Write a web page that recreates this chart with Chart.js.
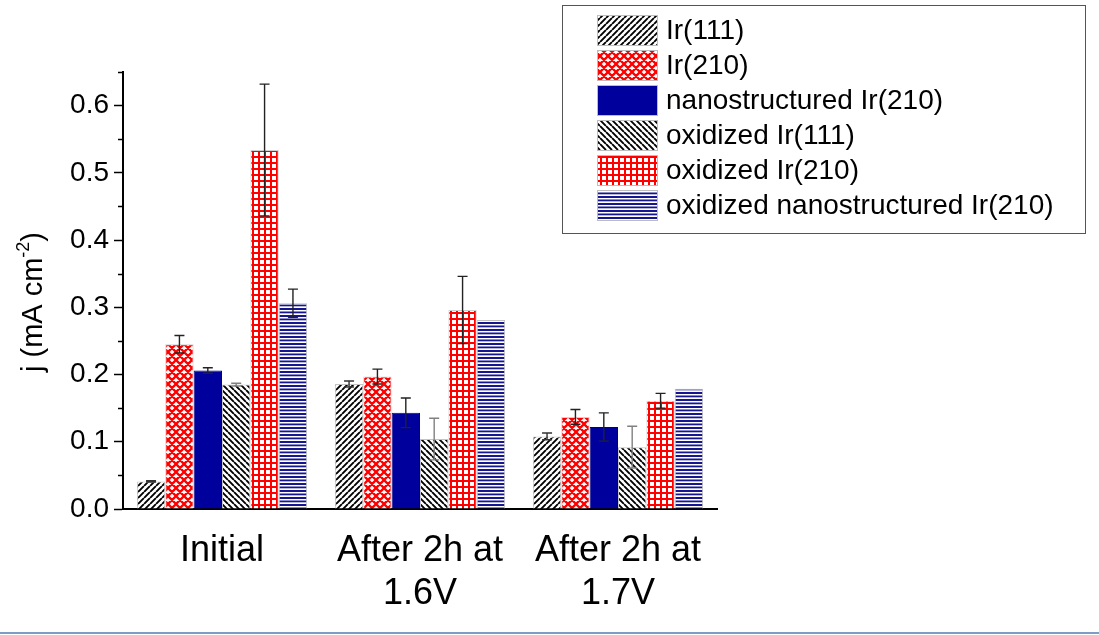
<!DOCTYPE html>
<html>
<head>
  <title>Current density bars</title>
  <style>
    body { margin: 0; background: #fff; }
    canvas { display: block; }
  </style>
</head>
<body>
  <canvas id="chart" width="1099" height="635"></canvas>

  <script src="https://cdn.jsdelivr.net/npm/chart.js"></script>
  <script>
    // data
    const categories = ['Initial', ['After 2h at', '1.6V'], ['After 2h at', '1.7V']];
    const seriesNames = ['Ir(111)', 'Ir(210)', 'nanostructured Ir(210)', 'oxidized Ir(111)', 'oxidized Ir(210)', 'oxidized nanostructured Ir(210)'];
    const ir111 = [0.041, 0.186, 0.108];
    const ir210 = [0.245, 0.197, 0.137];
    const nano210 = [0.206, 0.143, 0.122];
    const oxIr111 = [0.185, 0.104, 0.092];
    const oxIr210 = [0.534, 0.296, 0.161];
    const oxNano210 = [0.306, 0.281, 0.179];
    // half-length of the error bars (0 = none drawn)
    const ir111Err = [0.001, 0.0045, 0.005];
    const ir210Err = [0.013, 0.011, 0.011];
    const nano210Err = [0.004, 0.022, 0.021];
    const oxIr111Err = [0.002, 0.031, 0.031];
    const oxIr210Err = [0.098, 0.05, 0.011];
    const oxNano210Err = [0.021, 0, 0];
    const yTicks = [0, 0.1, 0.2, 0.3, 0.4, 0.5, 0.6];
    const yMinorTicks = [0.05, 0.15, 0.25, 0.35, 0.45, 0.55, 0.65];

    const FONT = '"Liberation Sans", Arial, sans-serif';
    Chart.defaults.color = '#000';
    Chart.defaults.font.family = FONT;

    // hatch patterns
    function makePattern(w, h, draw) {
      const c = document.createElement('canvas');
      c.width = w; c.height = h;
      const g = c.getContext('2d');
      g.fillStyle = '#fff';
      g.fillRect(0, 0, w, h);
      draw(g, w, h);
      return g.createPattern(c, 'repeat');
    }
    const ctx = document.getElementById('chart').getContext('2d');

    const slashFwd = makePattern(6, 6, (g, p) => {
      g.strokeStyle = '#000'; g.lineWidth = 1.9;
      g.beginPath();
      for (const k of [-p, 0, p]) { g.moveTo(k, p); g.lineTo(k + p, 0); }
      g.stroke();
    });
    const slashBack = makePattern(6, 6, (g, p) => {
      g.strokeStyle = '#000'; g.lineWidth = 1.9;
      g.beginPath();
      for (const k of [-p, 0, p]) { g.moveTo(k, 0); g.lineTo(k + p, p); }
      g.stroke();
    });
    const redCross = makePattern(8, 8, (g, p) => {
      g.strokeStyle = '#ff0000'; g.lineWidth = 2.3;
      g.beginPath();
      for (const k of [-p, 0, p]) {
        g.moveTo(k, p); g.lineTo(k + p, 0);
        g.moveTo(k, 0); g.lineTo(k + p, p);
      }
      g.stroke();
    });
    const redGrid = makePattern(6, 6, (g, p) => {
      g.fillStyle = '#ff0000';
      g.fillRect(0, 0, p, 2);
      g.fillRect(0, 0, 2, p);
    });
    const blueLines = makePattern(6, 7, (g, w) => {
      g.fillStyle = '#16168e';
      g.fillRect(0, 0, w, 2);
      g.fillRect(0, 3.5, w, 1.8);
    });

    const fills = [slashFwd, redCross, '#00009c', slashBack, redGrid, blueLines];
    const borders = ['#c4c4c4', '#d0d0d0', '#00007e', '#c4c4c4', '#d0d0d0', '#c0c0c0'];
    const values = [ir111, ir210, nano210, oxIr111, oxIr210, oxNano210];
    const errors = [ir111Err, ir210Err, nano210Err, oxIr111Err, oxIr210Err, oxNano210Err];
    const errColors = ['#333', '#222', '#222', '#808080', '#222', '#222'];

    const errorBars = {
      id: 'errorBars',
      afterDatasetsDraw(chart) {
        const c = chart.ctx, y = chart.scales.y;
        chart.data.datasets.forEach((ds, i) => {
          const meta = chart.getDatasetMeta(i);
          meta.data.forEach((bar, j) => {
            const e = errors[i][j];
            if (!e) return;
            const v = values[i][j];
            const top = y.getPixelForValue(v + e), bot = y.getPixelForValue(v - e);
            c.save();
            c.strokeStyle = errColors[i];
            c.lineWidth = 1.4;
            c.beginPath();
            c.moveTo(bar.x, top); c.lineTo(bar.x, bot);
            c.moveTo(bar.x - 5, top); c.lineTo(bar.x + 5, top);
            c.moveTo(bar.x - 5, bot); c.lineTo(bar.x + 5, bot);
            c.stroke();
            c.restore();
          });
        });
      }
    };

    const decorations = {
      id: 'decorations',
      afterDraw(chart) {
        const c = chart.ctx, y = chart.scales.y, area = chart.chartArea;
        c.save();
        // minor ticks
        c.strokeStyle = '#000'; c.lineWidth = 1.5;
        c.beginPath();
        yMinorTicks.forEach(v => {
          const py = Math.round(y.getPixelForValue(v)) + 0.5;
          c.moveTo(area.left - 5, py); c.lineTo(area.left, py);
        });
        c.stroke();

        // y axis title with superscript
        c.translate(34, 302);
        c.rotate(-Math.PI / 2);
        c.fillStyle = '#000';
        c.textBaseline = 'middle';
        const big = '29px ' + FONT, small = '18px ' + FONT;
        const a = 'j (mA cm', b = '-2', d = ')';
        c.font = big;
        const wa = c.measureText(a).width, wd = c.measureText(d).width;
        c.font = small;
        const wb = c.measureText(b).width;
        const x0 = -(wa + wb + wd) / 2;
        c.font = big;
        c.fillText(a, x0, 0);
        c.font = small;
        c.fillText(b, x0 + wa, -10);
        c.font = big;
        c.fillText(d, x0 + wa + wb, 0);
        c.restore();

        // legend box
        c.save();
        c.fillStyle = '#fff';
        c.fillRect(562, 5, 523, 228);
        c.strokeStyle = '#555'; c.lineWidth = 1;
        c.strokeRect(562.5, 5.5, 523, 228);
        c.font = '28px ' + FONT;
        c.textBaseline = 'middle';
        seriesNames.forEach((name, i) => {
          const cy = 30 + i * 35;
          c.fillStyle = fills[i];
          c.fillRect(597, cy - 15, 60, 30);
          c.strokeStyle = '#bdbdbd';
          c.strokeRect(597.5, cy - 14.5, 60, 30);
          c.fillStyle = '#000';
          c.fillText(name, 666, cy + 1);
        });
        c.restore();

        // thin blue rule at the bottom of the picture
        c.fillStyle = '#7f9cc2';
        c.fillRect(0, 632, chart.width, 2);
      }
    };

    new Chart(ctx, {
      type: 'bar',
      data: {
        labels: categories,
        datasets: seriesNames.map((name, i) => ({
          label: name,
          data: values[i],
          backgroundColor: fills[i],
          borderColor: borders[i],
          borderWidth: 1,
          barPercentage: 1,
          categoryPercentage: 0.86
        }))
      },
      options: {
        responsive: false,
        animation: false,
        layout: { padding: { left: 0, right: 382, top: 72, bottom: 0 } },
        plugins: {
          legend: { display: false },
          tooltip: { enabled: false }
        },
        scales: {
          x: {
            grid: { display: false, drawTicks: false },
            border: { display: true, color: '#000', width: 2 },
            ticks: {
              font: { size: 36 },
              padding: 20,
              maxRotation: 0,
              autoSkip: false
            },
            afterFit(scale) { scale.height = 126; }
          },
          y: {
            min: 0,
            max: 0.65,
            grid: { drawOnChartArea: false, drawTicks: true, tickLength: 9, tickColor: '#000', tickWidth: 1.5 },
            border: { display: true, color: '#000', width: 2 },
            ticks: {
              font: { size: 28 },
              padding: 5,
              callback: v => v.toFixed(1)
            },
            afterBuildTicks(scale) { scale.ticks = yTicks.map(v => ({ value: v })); },
            afterFit(scale) { scale.width = 123; }
          }
        }
      },
      plugins: [errorBars, decorations]
    });
  </script>
</body>
</html>
